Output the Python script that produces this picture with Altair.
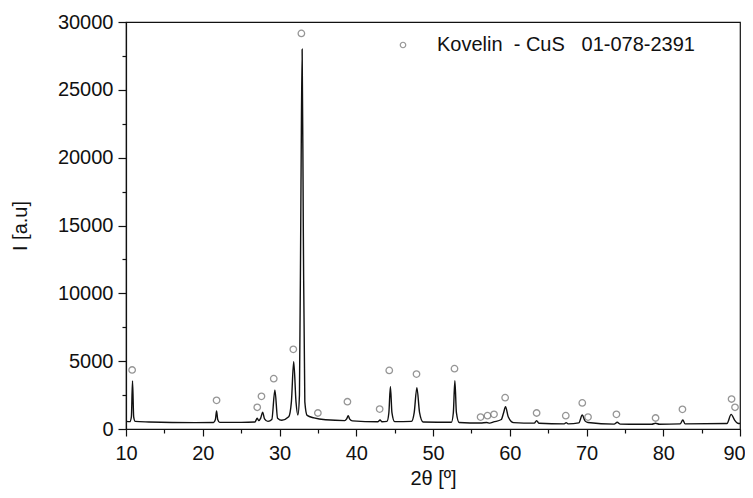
import altair as alt
import pandas as pd

# Diffractogram trace (2theta, intensity)
two_theta = [10.0, 10.5, 10.7, 10.85, 11.0, 11.2, 13.0, 16.0, 19.0, 21.4, 21.65, 21.8, 21.95, 22.2,
             25.0, 26.8, 27.1, 27.3, 27.55, 27.8, 28.05, 28.5, 29.0, 29.4, 29.75, 30.3, 31.2, 31.55,
             31.85, 32.15, 32.4, 32.6, 32.8, 32.95, 33.1, 33.3, 33.6, 34.5, 36.0, 38.5, 38.75, 38.95,
             39.15, 39.5, 42.8, 43.1, 43.35, 44.0, 44.25, 44.45, 44.65, 45.0, 47.2, 47.55, 47.9, 48.25,
             48.7, 52.4, 52.65, 52.85, 53.05, 53.4, 56.2, 57.0, 57.4, 57.9, 58.9, 59.2, 59.45, 59.8,
             60.5, 63.2, 63.5, 63.8, 67.1, 67.35, 67.6, 69.0, 69.45, 69.8, 70.2, 73.6, 74.0, 74.4,
             78.5, 79.0, 79.5, 82.2, 82.55, 82.85, 88.3, 88.85, 89.3, 89.7, 90.0]
intensity = [560, 540, 900, 3540, 900, 560, 520, 480, 470, 480, 700, 1330, 700, 490,
             490, 520, 790, 620, 800, 1230, 750, 560, 700, 2870, 800, 650, 900, 2000,
             4960, 2000, 1030, 2500, 18000, 28000, 15000, 2000, 1000, 820, 680, 620, 750, 980,
             730, 600, 530, 660, 530, 560, 1200, 3140, 1200, 540, 560, 1200, 3050, 1200,
             520, 500, 1200, 3560, 1200, 480, 440, 480, 430, 520, 700, 1200, 1640, 900,
             470, 430, 620, 420, 380, 470, 380, 450, 1030, 600, 480, 360, 500, 360,
             350, 420, 350, 380, 660, 380, 400, 1080, 650, 420, 400]

# Reference markers (Kovelin - CuS)
mark_theta = [10.8, 21.8, 27.1, 27.65, 29.25, 31.8, 32.85, 35.0, 38.85, 43.05, 44.3, 47.85, 52.8,
              56.2, 57.1, 57.95, 59.4, 63.5, 67.3, 69.45, 70.2, 73.9, 79.0, 82.5, 88.9, 89.35]
mark_int = [4350, 2110, 1600, 2410, 3710, 5870, 29160, 1180, 2010, 1470, 4320, 4050, 4450,
            880, 980, 1080, 2310, 1180, 980, 1920, 880, 1080, 810, 1450, 2210, 1600]

legend_label = "Kovelin\u00a0\u00a0-\u00a0CuS\u00a0\u00a0\u00a001-078-2391"

x_major = [10, 20, 30, 40, 50, 60, 70, 80, 90]
x_minor = [15, 25, 35, 45, 55, 65, 75, 85]
y_major = [0, 5000, 10000, 15000, 20000, 25000, 30000]
y_minor = [2500, 7500, 12500, 17500, 22500, 27500]

line_df = pd.DataFrame({"t": two_theta, "i": intensity, "o": range(len(two_theta))})
mark_df = pd.DataFrame({"t": mark_theta, "i": mark_int, "s": [legend_label] * len(mark_theta)})

FONT = "Liberation Sans"
xs = alt.Scale(domain=[10, 90], nice=False)
ys = alt.Scale(domain=[0, 30000], nice=False)

line = alt.Chart(line_df).mark_line(color="#111111", strokeWidth=1.4, interpolate="monotone").encode(
    x=alt.X("t:Q", scale=xs, axis=alt.Axis(values=x_major, title="2θ [º]", tickSize=7,
                                            labelPadding=7, titlePadding=5, labelFlush=False,
                                            labelOffset={"condition": {"test": "datum.value >= 90",
                                                                       "value": -6},
                                                         "value": 0})),
    y=alt.Y("i:Q", scale=ys, axis=alt.Axis(values=y_major, title="I [a.u]", format="d",
                                            tickSize=8, labelPadding=5, titlePadding=27,
                                            labelFlush=False)),
    order="o:Q",
)

pts = alt.Chart(mark_df).mark_point(filled=False, color="#6a6a6a", size=42, strokeWidth=1.3).encode(
    x=alt.X("t:Q", scale=xs, axis=alt.Axis(values=x_minor, orient="bottom", labels=False, title=None,
                                            tickSize=4, domain=False)),
    y=alt.Y("i:Q", scale=ys, axis=alt.Axis(values=y_minor, orient="left", labels=False, title=None,
                                            tickSize=4, domain=False)),
    shape=alt.Shape("s:N", scale=alt.Scale(range=["circle"]),
                    legend=alt.Legend(orient="none", legendX=267, legendY=13, title=None,
                                      labelFontSize=20, labelFont=FONT, labelColor="#111111",
                                      labelOffset=24, symbolSize=30, symbolStrokeColor="#6a6a6a",
                                      symbolFillColor="transparent", symbolStrokeWidth=1.2,
                                      padding=0, labelLimit=400)),
)

chart = alt.layer(line, pts).resolve_axis(x="independent", y="independent").properties(
    width=614, height=407,
    autosize=alt.AutoSizeParams(type="none"),
    padding={"left": 118, "top": 14, "right": 5, "bottom": 61},
).configure_view(stroke="#111111", strokeWidth=1.2).configure_axis(
    domainColor="#111111", tickColor="#111111", labelColor="#111111", titleColor="#111111",
    labelFont=FONT, titleFont=FONT, labelFontSize=20, titleFontSize=20, titleFontWeight="normal",
    grid=False, domainWidth=1.2, tickWidth=1.2,
)

chart.save("out.html", embed_options={"renderer": "svg", "actions": False})
